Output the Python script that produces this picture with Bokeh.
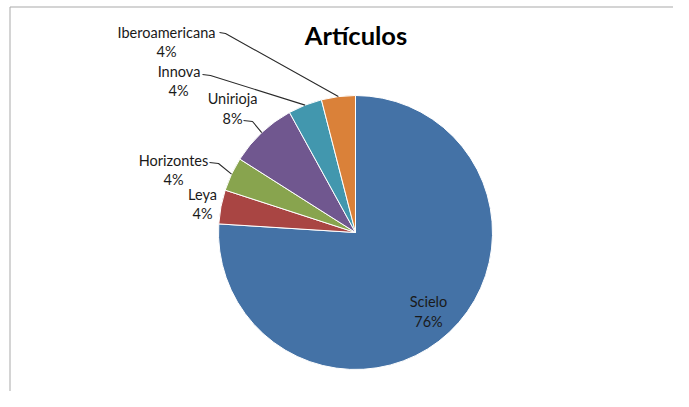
import math
from bokeh.plotting import figure
from bokeh.models import Range1d, ColumnDataSource
from bokeh.core.properties import value
from bokeh.embed import file_html
from bokeh.resources import INLINE

# ---- data ----
title_text = "Artículos"
categories = ["Scielo", "Leya", "Horizontes", "Unirioja", "Innova", "Iberoamericana"]
counts = [19, 1, 1, 2, 1, 1]
colors = ["#4472A6", "#A94543", "#88A44E", "#70578F", "#4297AE", "#DA8139"]

# ---- layout (image pixel coords; data y = H - image y) ----
W, H = 689, 407
def Y(img_y):
    return H - img_y

cx, cy, R = 355, Y(232), 137

total = sum(counts)
fracs = [c / total for c in counts]
pcts = ["%d%%" % round(f * 100) for f in fracs]

starts, ends, mids = [], [], []
acc = 0.0
for f in fracs:
    a0 = math.pi / 2 - 2 * math.pi * acc
    acc += f
    a1 = math.pi / 2 - 2 * math.pi * acc
    starts.append(a0)
    ends.append(a1)
    mids.append((a0 + a1) / 2)

p = figure(width=673, height=391, x_range=Range1d(0, 673), y_range=Range1d(H - 391, H),
           output_backend="svg", toolbar_location=None, min_border=0)
p.axis.visible = False
p.grid.visible = False
p.outline_line_color = None
p.background_fill_color = "white"
p.border_fill_color = "white"

# chart-area border
p.segment(x0=[9.5, 9.5], y0=[Y(391), Y(6.5)], x1=[9.5, 673], y1=[Y(6.5), Y(6.5)],
          line_color="#a9a9a9", line_width=1)

src = ColumnDataSource(dict(cat=categories, start=starts, end=ends, color=colors))
p.wedge(x=cx, y=cy, radius=R, start_angle="start", end_angle="end", direction="clock",
        fill_color="color", line_color="white", line_width=1, source=src)

# label positions (image coords): name center, pct center, leader start
name_pos = {
    "Scielo": (428, 301), "Leya": (202, 194), "Horizontes": (173, 160),
    "Unirioja": (232, 98), "Innova": (178.5, 71), "Iberoamericana": (166, 32),
}
pct_pos = {
    "Scielo": (428, 321), "Leya": (202, 213), "Horizontes": (173, 179),
    "Unirioja": (232, 118), "Innova": (178, 90), "Iberoamericana": (166, 51),
}
leader_start = {
    "Horizontes": [(209, 162), (218, 163)],
    "Unirioja": [(243, 120), (252, 121)],
    "Innova": [(202, 74), (210, 75)],
    "Iberoamericana": [(219, 32), (225, 33)],
}

lx, ly = [], []
for i, c in enumerate(categories):
    if c in leader_start:
        pts = leader_start[c]
        ex = cx + R * math.cos(mids[i])
        ey = cy + R * math.sin(mids[i])
        lx.append([q[0] for q in pts] + [ex])
        ly.append([Y(q[1]) for q in pts] + [ey])
p.multi_line(xs=lx, ys=ly, line_color="#2a2a2a", line_width=1.1)

font = value("Lato")
p.text(x=[name_pos[c][0] for c in categories], y=[Y(name_pos[c][1]) for c in categories],
       text=categories, text_align="center", text_baseline="middle",
       text_font=font, text_font_size="14.5px", text_color="#1a1a1a")
p.text(x=[pct_pos[c][0] for c in categories], y=[Y(pct_pos[c][1]) for c in categories],
       text=pcts, text_align="center", text_baseline="middle",
       text_font=font, text_font_size="14.5px", text_color="#1a1a1a")

p.text(x=[355.5], y=[Y(34)], text=[title_text], text_align="center", text_baseline="middle",
       text_font=font, text_font_size="25.5px", text_font_style="bold", text_color="#000000")

open("out.html", "w").write(file_html(p, INLINE))
